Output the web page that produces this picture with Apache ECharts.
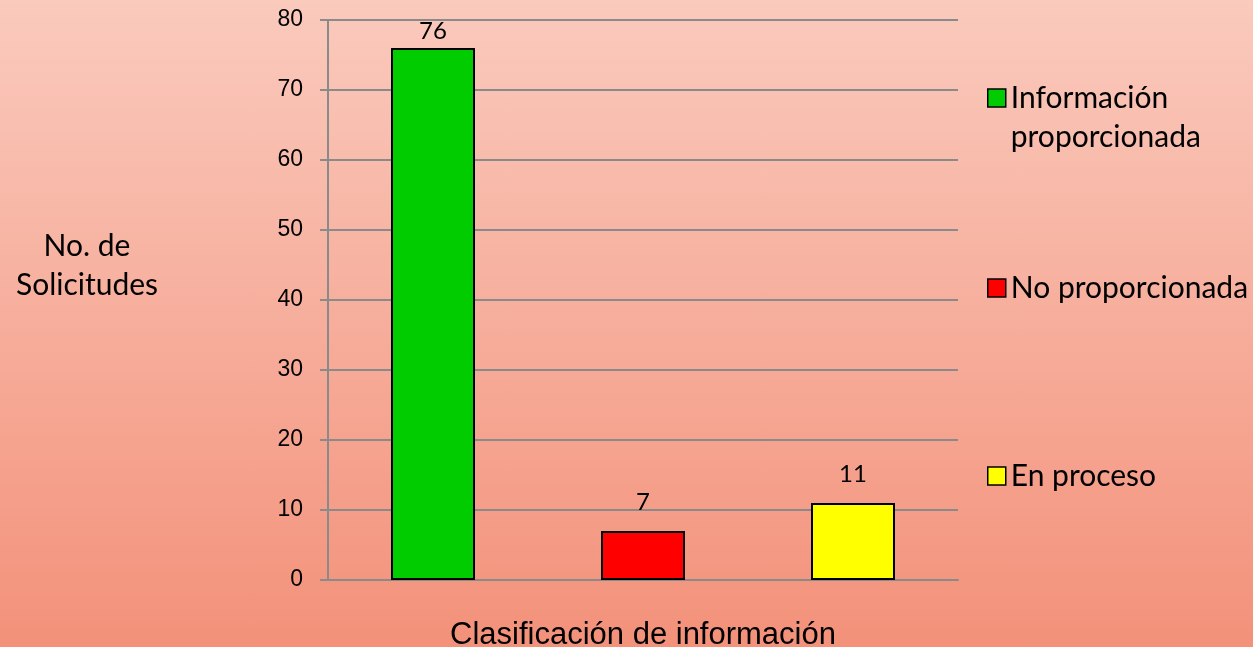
<!DOCTYPE html>
<html>
<head>
<meta charset="utf-8">
<script src="https://cdn.jsdelivr.net/npm/echarts@6/dist/echarts.min.js"></script>
<style>
html,body{margin:0;padding:0;}
#c{width:1253px;height:647px;background:linear-gradient(to bottom,#FACABD 0%,#F3917A 100%);}
</style>
</head>
<body>
<div id="c"></div>
<script>
const categories = ['Información proporcionada', 'No proporcionada', 'En proceso'];
const values = [76, 7, 11];
const colors = ['#00CC00', '#FF0000', '#FFFF00'];
const yTicks = [0, 10, 20, 30, 40, 50, 60, 70, 80];

const chart = echarts.init(document.getElementById('c'), null, {renderer: 'canvas'});

const labelDistances = [5, 17, 17];
const series = categories.map((name, i) => ({
  name: name,
  type: 'bar',
  stack: 'total',
  barWidth: 84,
  data: categories.map((c, j) => (j === i ? values[i] : null)),
  itemStyle: {color: colors[i], borderColor: '#000', borderWidth: 2},
  label: {
    show: true, position: 'top', distance: labelDistances[i],
    color: '#000', fontFamily: 'Lato', fontSize: 24
  }
}));

const legendIconTops = [89, 273, 461];
const legends = categories.map((name, i) => {
  const multi = i === 0;
  return {
    data: [name],
    left: 987,
    top: multi ? legendIconTops[i] - 49.5 : legendIconTops[i],
    padding: 0,
    itemWidth: 18,
    itemHeight: 18,
    itemGap: 8,
    icon: 'rect',
    selectedMode: false,
    itemStyle: {borderColor: '#000', borderWidth: 1.5},
    formatter: multi ? '\nInformación\nproporcionada' : '{name}',
    textStyle: multi ? {
      fontFamily: 'Lato', fontSize: 30, color: '#000', lineHeight: 39
    } : {fontFamily: 'Lato', fontSize: 30, color: '#000', lineHeight: 18}
  };
});

chart.setOption({
  backgroundColor: 'transparent',
  animation: false,
  grid: {left: 328, right: 295, top: 20, bottom: 67, containLabel: false, outerBoundsMode: 'none'},
  legend: legends,
  xAxis: {
    type: 'category',
    data: categories,
    name: 'Clasificación de información',
    nameLocation: 'middle',
    nameGap: 40,
    nameTextStyle: {fontFamily: 'Liberation Sans', fontSize: 31, color: '#000'},
    axisLine: {lineStyle: {color: '#8a8a8a', width: 2}},
    axisTick: {show: false},
    axisLabel: {show: false}
  },
  yAxis: {
    type: 'value',
    min: yTicks[0],
    max: yTicks[yTicks.length - 1],
    interval: 10,
    name: '{a|No. de}\n{a|Solicitudes}\n{b| }',
    nameLocation: 'middle',
    nameRotate: 0,
    nameGap: 241,
    nameTextStyle: {
      fontFamily: 'Lato', fontSize: 30, color: '#000', align: 'center',
      rich: {
        a: {fontFamily: 'Lato', fontSize: 30, color: '#000', lineHeight: 39},
        b: {fontSize: 10, lineHeight: 68}
      }
    },
    axisLine: {show: true, lineStyle: {color: '#8a8a8a', width: 2}},
    axisTick: {show: true, length: 8, lineStyle: {color: '#8a8a8a', width: 2}},
    axisLabel: {
      margin: 25, color: '#000', fontFamily: 'Liberation Sans', fontSize: 23,
      formatter: v => String(v)
    },
    splitLine: {lineStyle: {color: '#8a8a8a', width: 2}}
  },
  series: series
});
</script>
</body>
</html>
